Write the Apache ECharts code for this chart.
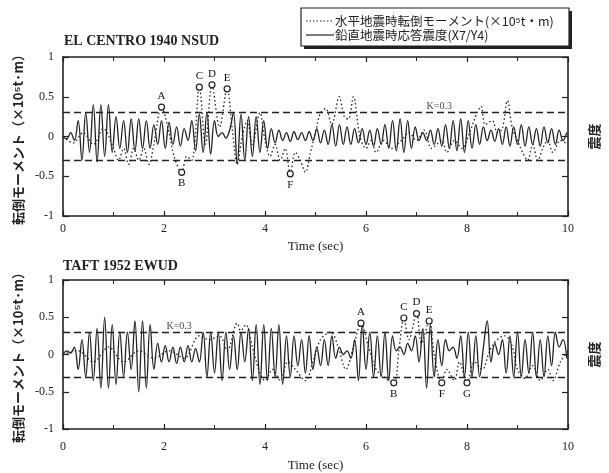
<!DOCTYPE html>
<html>
<head>
<meta charset="utf-8">
<script src="https://cdn.jsdelivr.net/npm/echarts@6/dist/echarts.min.js"></script>
<style>html,body{margin:0;padding:0;background:#fff}#c{width:609px;height:473px}</style>
</head>
<body>
<div id="c"></div>
<script>
// ---------- data ----------
var xTicks = [0, 2, 4, 6, 8, 10];
var yTicks = [-1, -0.5, 0, 0.5, 1];
var sampleStep = 0.075; // sec between solid-line extrema samples
var kLevel = 0.3;

// Panel 1: EL CENTRO 1940 NSUD — vertical response seismic coefficient (solid)
var solid1 = [
  0, -0.03, 0.05, -0.05, 0.2, -0.3, 0.3, -0.2, 0.4, -0.32,
  0.4, -0.25, 0.4, -0.2, 0.25, -0.15, 0.2, -0.2, 0.22, -0.18,
  0.22, -0.15, 0.2, -0.15, 0.15, -0.1, 0.2, -0.15, 0.18, -0.1,
  0.12, -0.12, 0.1, -0.05, 0.2, -0.18, 0.28, -0.2, 0.3, -0.22,
  0.2, 0.0, 0.05, -0.02, 0.08, 0.3, -0.35, 0.28, -0.3, 0.25,
  -0.25, 0.25, -0.2, 0.2, -0.15, 0.1, -0.08, 0.08, -0.05, 0.05,
  -0.06, 0.06, -0.04, 0.05, -0.05, 0.06, -0.05, 0.1, -0.08, 0.08,
  -0.1, 0.15, -0.12, 0.15, -0.1, 0.12, -0.1, 0.1, -0.08, 0.1,
  -0.1, 0.08, -0.12, 0.1, -0.1, 0.15, -0.15, 0.2, -0.18, 0.22,
  -0.2, 0.2, -0.15, 0.12, -0.05, 0.05, -0.05, 0.08, -0.1, 0.1,
  -0.12, 0.15, -0.15, 0.2, -0.18, 0.22, -0.2, 0.2, -0.15, 0.15,
  -0.1, 0.12, -0.05, 0.08, -0.06, 0.1, -0.1, 0.12, -0.12, 0.12,
  -0.1, 0.15, -0.12, 0.12, -0.1, 0.1, -0.12, 0.12, -0.08, 0.1, -0.1, 0.08, -0.05, 0.05
];
// Panel 1 horizontal overturning moment (dotted)
var dotTime1 = [0,0.2,0.4,0.6,0.8,1.0,1.1,1.2,1.3,1.4,1.5,1.6,1.7,1.8,1.95,2.1,2.2,2.35,2.45,2.55,2.7,2.82,2.95,3.1,3.25,3.35,3.45,3.55,3.65,3.75,3.9,4.0,4.1,4.2,4.3,4.4,4.5,4.6,4.7,4.8,4.9,5.0,5.1,5.2,5.32,5.47,5.57,5.65,5.75,5.88,6.0,6.1,6.2,6.35,6.5,6.7,6.85,7.0,7.15,7.3,7.5,7.6,7.75,7.9,8.05,8.2,8.28,8.36,8.5,8.6,8.7,8.8,8.9,9.0,9.1,9.2,9.3,9.4,9.5,9.6,9.7,9.85,10];
var dotVal1  = [0,-0.08,0.05,-0.1,0.1,-0.15,-0.3,-0.15,-0.35,-0.15,-0.3,-0.15,-0.35,-0.1,0.37,0.05,-0.25,-0.45,-0.25,-0.3,0.62,-0.1,0.65,0.12,0.6,0.1,-0.35,0.0,0.2,-0.1,0.3,-0.05,-0.25,-0.1,-0.3,-0.15,-0.47,-0.2,-0.3,-0.45,-0.2,0.05,0.3,0.35,0.15,0.5,0.25,0.22,0.5,0.0,-0.15,-0.05,-0.2,-0.05,-0.15,-0.05,0.05,-0.05,0.08,-0.15,-0.05,-0.2,-0.05,-0.15,0.05,0.3,0.38,0.15,0.2,0.05,0.1,0.45,0.1,-0.05,-0.2,-0.3,-0.1,-0.3,-0.15,-0.05,-0.2,-0.05,-0.1];
var markName1 = ['A','B','C','D','E','F'];
var markTime1 = [1.95, 2.35, 2.7, 2.95, 3.25, 4.5];
var markVal1  = [0.37, -0.45, 0.62, 0.65, 0.6, -0.47];
var kPos1 = [7.45, 0.38];

// Panel 2: TAFT 1952 EWUD
var solid2 = [
  0, 0.05, 0.02, 0.1, -0.2, 0.2, -0.3, 0.3, -0.35, 0.35,
  -0.45, 0.5, -0.45, 0.4, -0.4, 0.3, -0.3, 0.3, -0.2, 0.45,
  -0.5, 0.45, -0.45, 0.4, -0.2, 0.15, -0.1, 0.12, -0.1, 0.1,
  -0.12, 0.1, -0.1, 0.12, -0.1, 0.08, -0.1, 0.3, -0.3, 0.3,
  -0.25, 0.3, -0.35, 0.3, -0.2, 0.25, -0.2, 0.3, -0.1, 0.35,
  -0.35, 0.4, -0.4, 0.4, -0.35, 0.35, -0.3, 0.4, -0.4, 0.25,
  -0.3, 0.25, -0.15, 0.2, -0.25, 0.25, -0.2, 0.1, -0.15, 0.2,
  -0.15, 0.25, -0.05, 0.1, 0.0, 0.05, -0.05, 0.2, -0.35, 0.4,
  -0.2, 0.3, -0.3, 0.25, -0.3, 0.3, -0.35, 0.25, 0.05, 0.1,
  0.0, 0.15, 0.05, 0.25, -0.1, 0.35, -0.45, 0.4, -0.3, 0.2,
  -0.15, 0.2, 0.05, 0.1, -0.05, 0.25, -0.3, 0.3, -0.3, 0.25,
  -0.3, 0.1, 0.45, -0.1, 0.15, 0.0, 0.2, -0.25, 0.25, -0.3,
  0.3, -0.3, 0.2, -0.25, 0.3, -0.3, 0.2, -0.3, 0.25, -0.15, 0.3, 0.1, 0.2, -0.05
];
var dotTime2 = [0,0.3,0.6,0.9,1.2,1.5,1.8,2.1,2.4,2.7,2.9,3.1,3.25,3.45,3.52,3.62,3.75,3.9,4.0,4.15,4.3,4.45,4.6,4.8,4.95,5.1,5.3,5.45,5.6,5.75,5.9,6.05,6.2,6.35,6.55,6.65,6.75,6.85,7.0,7.1,7.25,7.35,7.5,7.6,7.75,7.85,8.0,8.15,8.3,8.45,8.6,8.75,8.9,9.0,9.15,9.3,9.45,9.6,9.7,9.85,10];
var dotVal2  = [0,0.05,-0.1,0.1,-0.1,0.05,-0.05,0.05,-0.05,0.25,0.2,0.25,0.05,0.42,0.32,0.4,0.1,-0.25,-0.35,-0.2,-0.35,-0.1,-0.2,-0.35,-0.1,0.2,0.3,0.1,-0.2,0.1,0.42,0.1,-0.2,-0.3,-0.38,0.05,0.49,0.2,0.55,0.15,0.45,0.0,-0.38,-0.2,-0.35,-0.1,-0.38,-0.1,-0.2,0.05,0.2,0.25,0.1,-0.2,-0.32,-0.15,-0.35,-0.2,-0.35,-0.1,0.05];
var markName2 = ['A','B','C','D','E','F','G'];
var markTime2 = [5.9, 6.55, 6.75, 7.0, 7.25, 7.5, 8.0];
var markVal2  = [0.42, -0.38, 0.49, 0.55, 0.45, -0.38, -0.38];
var kPos2 = [2.3, 0.38];

var titles = ['EL CENTRO 1940 NSUD', 'TAFT 1952 EWUD'];
var yName = '転倒モーメント（×10⁵t·m）';
var yNameRight = '震度';
var xName = 'Time (sec)';
var legendDotted = '水平地震時転倒モーメント(×10⁵t・m)';
var legendSolid = '鉛直地震時応答震度(X7/Y4)';

// ---------- build ----------
var INK = '#222';
var SERIF = '"Liberation Serif","DejaVu Serif",serif';
var JP = '"Noto Sans CJK JP",sans-serif';

function pairs(t, v) { return t.map(function (x, i) { return [x, v[i]]; }); }
function sampled(v) { return v.map(function (y, i) { return [+(i * sampleStep).toFixed(3), y]; }); }

var grids = [
  { left: 63, top: 57, width: 509, height: 159 },
  { left: 63, top: 280, width: 507, height: 151 }
];

function xAxes(gi, nameGap, labelMargin) {
  var base = {
    type: 'value', gridIndex: gi, min: xTicks[0], max: xTicks[xTicks.length - 1], interval: 2,
    axisLine: { show: true, onZero: false, lineStyle: { color: INK, width: 1.6 } },
    axisTick: { show: true, inside: true, length: 5, lineStyle: { color: INK, width: 1.2 } },
    minorTick: { show: true, splitNumber: 2, length: 4, lineStyle: { color: INK, width: 1 } },
    splitLine: { show: false }
  };
  var bottom = Object.assign({}, base, {
    position: 'bottom',
    axisLabel: { color: INK, fontFamily: SERIF, fontSize: 12, margin: labelMargin },
    name: xName, nameLocation: 'middle', nameGap: nameGap,
    nameTextStyle: { color: INK, fontFamily: SERIF, fontSize: 13 }
  });
  var top = Object.assign({}, base, { position: 'top', axisLabel: { show: false } });
  return [bottom, top];
}
function yAxes(gi) {
  var base = {
    type: 'value', gridIndex: gi, min: yTicks[0], max: yTicks[yTicks.length - 1], interval: 0.5,
    axisLine: { show: true, onZero: false, lineStyle: { color: INK, width: 1.6 } },
    axisTick: { show: true, inside: true, length: 6, lineStyle: { color: INK, width: 1.2 } },
    splitLine: { show: false }
  };
  var left = Object.assign({}, base, {
    position: 'left',
    axisLabel: { color: INK, fontFamily: SERIF, fontSize: 12, margin: 9 },
    name: yName, nameLocation: 'middle', nameRotate: 90, nameGap: 38,
    nameTextStyle: { color: INK, fontFamily: JP, fontSize: 13, fontWeight: 'bold' }
  });
  var right = Object.assign({}, base, {
    position: 'right', axisLabel: { show: false },
    name: yNameRight, nameLocation: 'middle', nameRotate: 90, nameGap: 20,
    nameTextStyle: { color: INK, fontFamily: JP, fontSize: 13, fontWeight: 'bold' }
  });
  return [left, right];
}

function panelSeries(gi, solid, dt, dv, mn, mt, mv, kPos) {
  var xi = gi * 2, yi = gi * 2;
  return [
    {
      type: 'line', xAxisIndex: xi, yAxisIndex: yi, data: pairs(dt, dv), showSymbol: false, smooth: 0.35,
      lineStyle: { color: INK, width: 1.3, type: [1.5, 2.5] }, z: 2,
      markLine: {
        silent: true, symbol: 'none', label: { show: false },
        lineStyle: { color: INK, width: 1.4, type: [7, 4] },
        data: [{ yAxis: kLevel }, { yAxis: -kLevel }]
      }
    },
    {
      type: 'line', xAxisIndex: xi, yAxisIndex: yi, data: sampled(solid), showSymbol: false, smooth: 0.4,
      lineStyle: { color: INK, width: 1.3 }, z: 3
    },
    {
      type: 'scatter', xAxisIndex: xi, yAxisIndex: yi, z: 5,
      data: mt.map(function (t, i) {
        return { value: [t, mv[i]], name: mn[i],
          label: { position: mv[i] > 0 ? 'top' : 'bottom', distance: 2 } };
      }),
      symbol: 'circle', symbolSize: 6,
      itemStyle: { color: '#fff', borderColor: INK, borderWidth: 1.2, opacity: 1 },
      label: { show: true, formatter: '{b}', color: '#111', fontFamily: SERIF, fontSize: 11 }
    },
    {
      type: 'scatter', xAxisIndex: xi, yAxisIndex: yi, z: 5, symbolSize: 0,
      data: [{ value: kPos, name: 'K=0.3' }],
      label: { show: true, position: 'inside', formatter: '{b}', color: '#111', fontFamily: SERIF, fontSize: 10 }
    }
  ];
}

var chart = echarts.init(document.getElementById('c'), null, { renderer: 'canvas' });
chart.setOption({
  animation: false,
  backgroundColor: '#fff',
  grid: grids,
  xAxis: xAxes(0, 24, 7).concat(xAxes(1, 30, 12)),
  yAxis: yAxes(0).concat(yAxes(1)),
  series: panelSeries(0, solid1, dotTime1, dotVal1, markName1, markTime1, markVal1, kPos1)
    .concat(panelSeries(1, solid2, dotTime2, dotVal2, markName2, markTime2, markVal2, kPos2)),
  graphic: [
    { type: 'text', left: 64, top: 34, style: { text: titles[0], fill: INK, font: 'bold 14px ' + SERIF } },
    { type: 'text', left: 63, top: 259, style: { text: titles[1], fill: INK, font: 'bold 14px ' + SERIF } },
    // legend box with shadow
    { type: 'rect', shape: { x: 304, y: 11, width: 268, height: 38 }, style: { fill: INK }, z: 10 },
    { type: 'rect', shape: { x: 301, y: 8, width: 268, height: 38 }, style: { fill: '#fff', stroke: INK, lineWidth: 1.2 }, z: 11 },
    { type: 'line', shape: { x1: 306, y1: 21, x2: 334, y2: 21 }, style: { stroke: INK, lineWidth: 1.2, lineDash: [1.5, 2] }, z: 12 },
    { type: 'line', shape: { x1: 306, y1: 35, x2: 334, y2: 35 }, style: { stroke: INK, lineWidth: 1.2 }, z: 12 },
    { type: 'text', x: 335, y: 21, style: { text: legendDotted, fill: INK, font: '12.5px ' + JP, verticalAlign: 'middle' }, z: 12 },
    { type: 'text', x: 335, y: 35, style: { text: legendSolid, fill: INK, font: '12.5px ' + JP, verticalAlign: 'middle' }, z: 12 }
  ]
});
</script>
</body>
</html>
